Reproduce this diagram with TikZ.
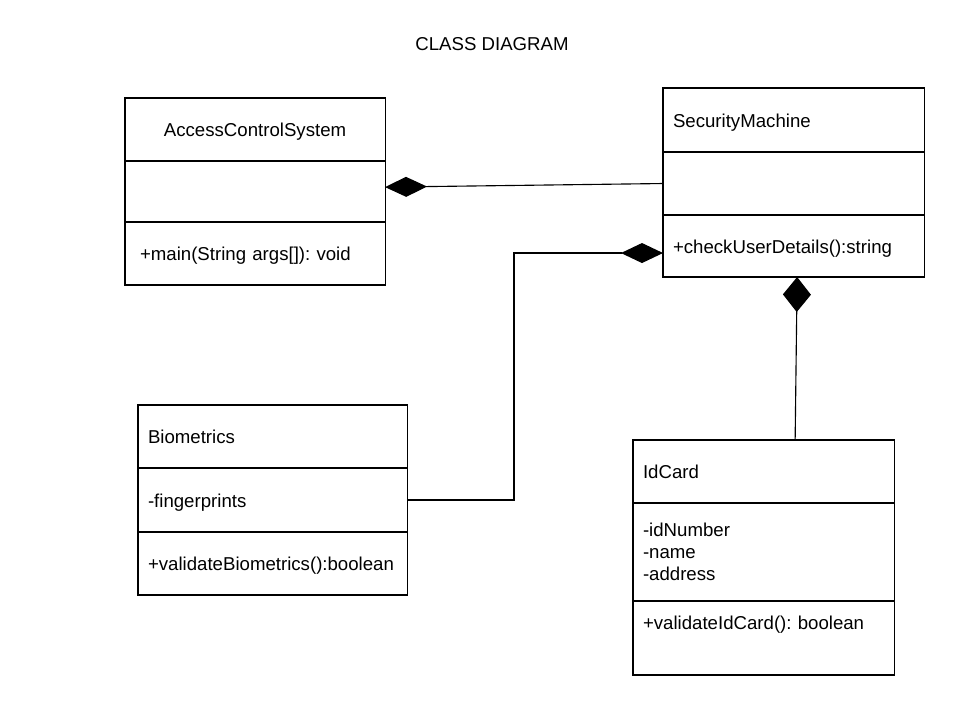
\documentclass[tikz,border=0pt]{standalone}
\usepackage{fontspec}
\setmainfont{Liberation Sans}
\usetikzlibrary{positioning,arrows.meta}
\frenchspacing
\begin{document}
\begin{tikzpicture}[x=0.025cm,y=-0.025cm,line width=0.8pt,font=\fontsize{13.25}{15.6}\selectfont,
	part/.style={draw,anchor=north,outer sep=0pt,inner xsep=0.25cm,inner ysep=0pt,align=left,minimum height=#1},
	row/.style={text height=10pt,text depth=0pt},
	comp/.style={{Diamond[length=1.05cm,width=0.5cm]}-}]
	\useasboundingbox (0,0) rectangle (960,720);
	\node (title) at (492,44) {CLASS DIAGRAM};
	% AccessControlSystem
	\node[part=1.575cm,row,anchor=north west,text width=6cm,align=center] (acsT) at (125,98) {AccessControlSystem};
	\node[part=1.525cm,text width=6cm,below=0pt of acsT] (acsA) {};
	\node[part=1.575cm,row,inner xsep=0.375cm,text width=5.75cm,below=0pt of acsA] (acsM) {+main(String args[]): void};
	% SecurityMachine
	\node[part=1.6cm,row,anchor=north west,text width=6.025cm] (smT) at (663,88) {SecurityMachine};
	\node[part=1.575cm,text width=6.025cm,below=0pt of smT] (smA) {};
	\node[part=1.55cm,row,text width=6.025cm,below=0pt of smA] (smM) {+checkUserDetails():string};
	% Biometrics
	\node[part=1.575cm,row,anchor=north west,text width=6.225cm] (bioT) at (138,405) {Biometrics};
	\node[part=1.6cm,row,text width=6.225cm,below=0pt of bioT] (bioA) {-fingerprints};
	\node[part=1.575cm,row,text width=6.225cm,below=0pt of bioA] (bioM) {+validateBiometrics():boolean};
	% IdCard
	\node[part=1.575cm,row,anchor=north west,text width=6.025cm] (idT) at (633,440) {IdCard};
	\node[part=2.45cm,text width=6.025cm,below=0pt of idT] (idA) {-idNumber\\-name\\-address};
	\node[part=1.85cm,text width=6.025cm,text depth=0.75cm,below=0pt of idA] (idM) {+validateIdCard(): boolean};
	% links
	\draw[comp] ([yshift=0.11cm]acsA.east) -- (smA.west);
	\draw[comp] ([yshift=-0.175cm]smM.west) -- ++(-149,0) |- (bioA.east);
	\draw[{Diamond[length=0.875cm,width=0.7cm]}-] ([xshift=0.09cm]smM.south) -- ([xshift=0.79cm]idT.north);
\end{tikzpicture}
\end{document}
